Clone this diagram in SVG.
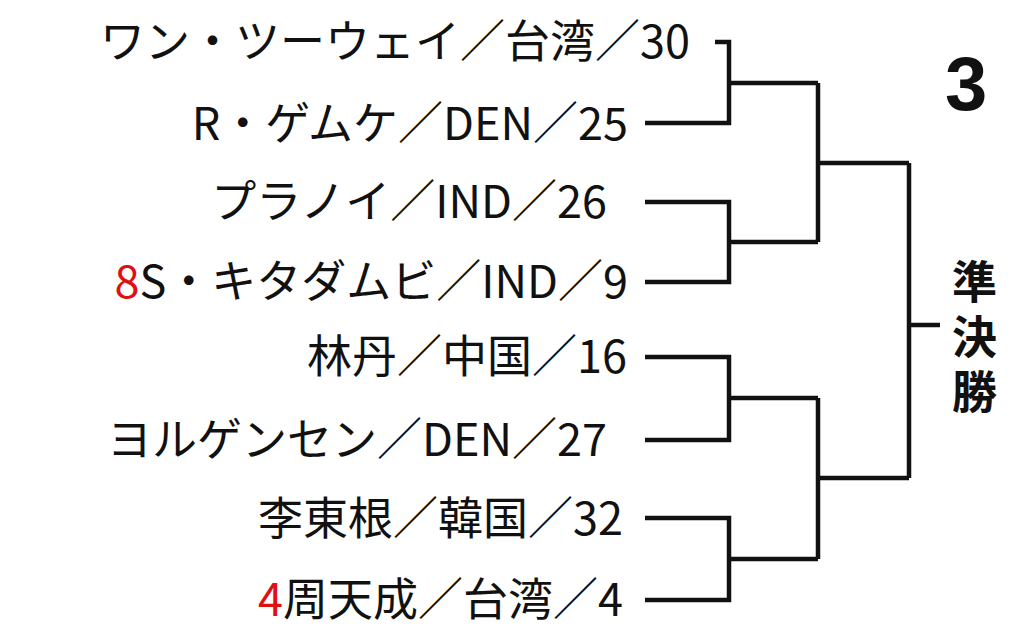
<svg xmlns="http://www.w3.org/2000/svg" width="1024" height="644" viewBox="0 0 1024 644">
<style>
text{font-family:"Noto Sans CJK JP","Noto Sans",sans-serif;font-size:45px;fill:#111}
.n{text-anchor:end}
.r{fill:#e01010}
path{fill:none;stroke:#111;stroke-width:4.5}
</style>
<rect width="1024" height="644" fill="#fff"/>
<g id="p1"><text class="n" x="690" y="58">ワン・ツーウェイ／台湾／30</text></g>
<g id="p2"><text class="n" x="628" y="140">R・ゲムケ／DEN／25</text></g>
<g id="p3"><text class="n" x="607" y="218">プラノイ／IND／26</text></g>
<g id="p4"><text class="n" x="628" y="298"><tspan class="r">8</tspan>S・キタダムビ／IND／9</text></g>
<g id="p5"><text class="n" x="627" y="373">林丹／中国／16</text></g>
<g id="p6"><text class="n" x="607" y="456">ヨルゲンセン／DEN／27</text></g>
<g id="p7"><text class="n" x="623" y="535">李東根／韓国／32</text></g>
<g id="p8"><text class="n" x="623" y="616"><tspan class="r">4</tspan>周天成／台湾／4</text></g>
<g id="title"><text x="945" y="110" style="font-size:76px;font-weight:bold;font-family:'Liberation Sans',sans-serif">3</text></g>
<g id="label" style="font-weight:bold;font-size:34px">
<text x="952" y="299">準</text><text x="952" y="354">決</text><text x="952" y="409">勝</text>
</g>
<g id="connectors">
<path d="M715 42H729V123H645M729 83H818M645 202H729V282H645M729 242H818M818 83V242M818 163H909"/>
<path d="M645 357H729V440H645M729 398H818M645 518H729V600H645M729 559H818M818 398V559M818 478H909"/>
<path d="M909 163V478M909 325H940"/>
</g>
</svg>
